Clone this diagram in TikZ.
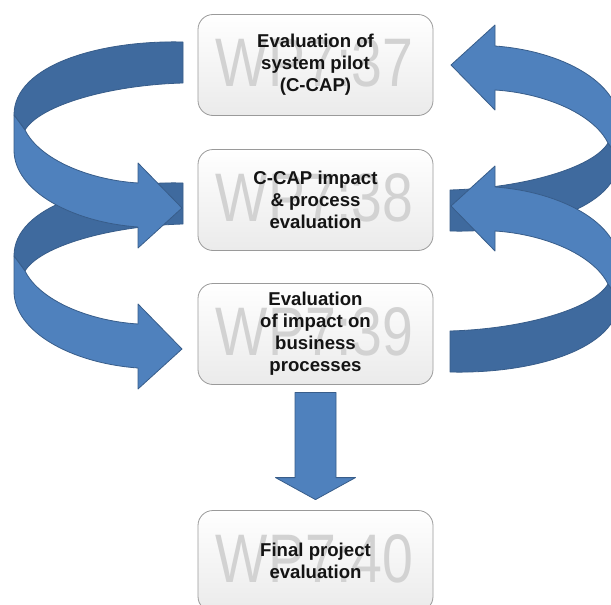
\documentclass[tikz,border=0pt]{standalone}
\usepackage{fontspec}
\usepackage{graphicx}
\setmainfont{Liberation Sans}
\usetikzlibrary{calc}
\definecolor{arrowblue}{HTML}{4F81BD}
\definecolor{arrowdark}{HTML}{3F6A9E}
\definecolor{arrowline}{HTML}{385D8A}
\definecolor{boxline}{HTML}{9A9A9A}
\definecolor{wmgray}{HTML}{D2D2D2}
\newcommand\ribbonarrow{%
  \path[backpart] (183,42) .. controls (100,40) and (14,65) .. (14,115)
    -- (25,130) .. controls (40,105) and (110,85) .. (183,83) -- cycle;
  \path[frontpart] (14,115) -- (25,130) .. controls (40,160) and (90,180) .. (138,183)
    -- (138,163) -- (182,208) -- (138,248) -- (138,227)
    .. controls (70,222) and (14,190) .. (14,150) -- cycle;
}
\begin{document}
\begin{tikzpicture}[x=1pt,y=-1pt,
  backpart/.style={fill=arrowdark,draw=arrowline,line width=0.8pt,line join=round},
  frontpart/.style={fill=arrowblue,draw=arrowline,line width=0.8pt,line join=round},
  wpbox/.style={draw=boxline,line width=0.8pt,rounded corners=15pt,top color=white,bottom color=black!8,
    minimum width=235pt,minimum height=101pt,inner sep=0pt},
  wmark/.style={text=wmgray,font=\fontsize{55.4}{60}\selectfont,inner sep=0pt},
  label/.style={text=black!92,font=\bfseries\fontsize{18.6}{22}\selectfont,align=center,inner sep=0pt}]
\useasboundingbox (0,0) rectangle (611,605);
\clip (0,0) rectangle (611,605);
\fill[white] (0,0) rectangle (611,605);

% boxes
\node[wpbox] (b1) at (315.5,65) {};
\node[wpbox] (b2) at (315.5,200) {};
\node[wpbox] (b3) at (315.5,334) {};
\node[wpbox] (b4) at (315.5,561) {};

\node[wmark] (w1) at ($(b1.center)+(-1,-2)$) {\scalebox{1}[1.24]{WP7:37}};
\node[wmark] (w2) at ($(b2.center)+(-1,-2)$) {\scalebox{1}[1.24]{WP7:38}};
\node[wmark] (w3) at ($(b3.center)+(-1,-2)$) {\scalebox{1}[1.24]{WP7:39}};
\node[wmark] (w4) at ($(b4.center)+(-1,-2)$) {\scalebox{1}[1.24]{WP7:40}};

\node[label] (t1) at (b1.center) {Evaluation of\\system pilot\\(C-CAP)};
\node[label] (t2) at (b2.center) {C-CAP impact\\\& process\\evaluation};
\node[label] (t3) at (b3.center) {Evaluation\\of impact on\\business\\processes};
\node[label] (t4) at (b4.center) {Final project\\evaluation};

% left curved arrows (lower one first, upper one on top)
\begin{scope}[shift={(0,141)}]
  \ribbonarrow
\end{scope}
\ribbonarrow

% right curved arrows (upper one first, lower one on top)
\begin{scope}[rotate around={180:(316.5,136.5)}]
  \ribbonarrow
\end{scope}
\begin{scope}[shift={(0,141)}]
  \begin{scope}[rotate around={180:(316.5,136.5)}]
    \ribbonarrow
  \end{scope}
\end{scope}

% straight down arrow
\coordinate (s) at ($(b3.south)+(0,7.5)$);
\coordinate (e) at ($(b4.north)+(0,-10.5)$);
\path[frontpart] ($(s)+(-20.5,0)$) -- ($(s)+(20.5,0)$) -- ($(e)+(20.5,-22)$) -- ($(e)+(40,-22)$)
  -- (e) -- ($(e)+(-40,-22)$) -- ($(e)+(-20.5,-22)$) -- cycle;
\end{tikzpicture}
\end{document}
